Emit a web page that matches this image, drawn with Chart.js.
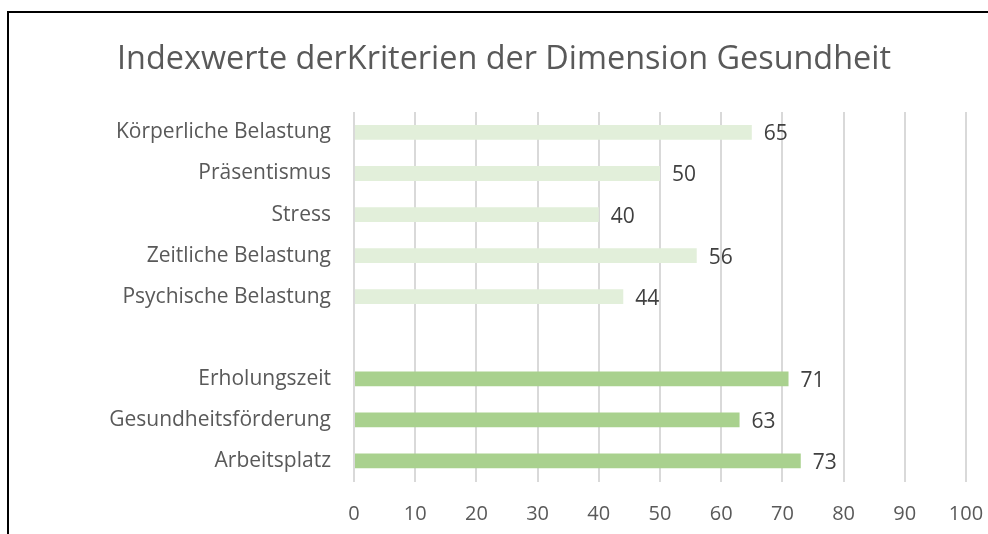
<!DOCTYPE html>
<html>
<head>
<meta charset="utf-8">
<script src="https://cdn.jsdelivr.net/npm/chart.js@4/dist/chart.umd.min.js"></script>
<style>
  html, body { margin: 0; padding: 0; background: #fff; overflow: hidden; width: 988px; height: 534px; }
  #frame { position: absolute; left: 7px; top: 11px; width: 1200px; height: 800px;
           border-top: 2px solid #000; border-left: 2px solid #000; }
  #chart { position: absolute; left: 0; top: 0; }
</style>
</head>
<body>
<div id="frame"></div>
<canvas id="chart" width="1008" height="534"></canvas>
<script>
// ── Data ──────────────────────────────────────
const TITLE      = 'Indexwerte derKriterien der Dimension Gesundheit';
const categories = ['Körperliche Belastung', 'Präsentismus', 'Stress', 'Zeitliche Belastung',
                    'Psychische Belastung', '', 'Erholungszeit', 'Gesundheitsförderung', 'Arbeitsplatz'];
const values     = [65, 50, 40, 56, 44, null, 71, 63, 73];
const xTicks     = [0, 10, 20, 30, 40, 50, 60, 70, 80, 90, 100];

// ── Styles ────────────────────────────────────
const LIGHT = '#E2EFDA';
const DARK  = '#A9D18E';
const barColors = values.map((v, i) => i < 5 ? LIGHT : DARK);
const FONT = "'Open Sans', sans-serif";

// value labels at bar end
const valueLabels = {
  id: 'valueLabels',
  afterDatasetsDraw(chart) {
    const { ctx } = chart;
    const meta = chart.getDatasetMeta(0);
    ctx.save();
    ctx.font = `21px ${FONT}`;
    ctx.fillStyle = '#404040';
    ctx.textAlign = 'left';
    ctx.textBaseline = 'middle';
    meta.data.forEach((bar, i) => {
      if (values[i] == null) return;
      ctx.fillText(String(values[i]), bar.x + 12, bar.y + 2);
    });
    ctx.restore();
  }
};

new Chart(document.getElementById('chart'), {
  type: 'bar',
  data: {
    labels: categories,
    datasets: [{
      data: values,
      backgroundColor: barColors,
      borderWidth: 0,
      barPercentage: 0.36,
      categoryPercentage: 1
    }]
  },
  options: {
    indexAxis: 'y',
    responsive: false,
    animation: false,
    devicePixelRatio: 1,
    layout: { padding: { left: 42, right: 42, top: 0, bottom: 0 } },
    plugins: {
      legend: { display: false },
      tooltip: { enabled: false },
      title: {
        display: true,
        text: TITLE,
        color: '#595959',
        font: { family: FONT, size: 32.4, weight: 'normal' },
        padding: { top: 40.5, bottom: 32.5 }
      }
    },
    scales: {
      x: {
        min: 0, max: 100,
        afterBuildTicks: s => { s.ticks = xTicks.map(v => ({ value: v })); },
        afterFit: s => { s.height = 52.5; },
        grid: { color: '#D9D9D9', lineWidth: 2, drawTicks: false },
        border: { display: false },
        ticks: { color: '#595959', padding: 21, font: { family: FONT, size: 20 } }
      },
      y: {
        afterFit: s => { s.width = 312; },
        grid: { display: false, drawTicks: false },
        border: { display: false },
        ticks: { color: '#595959', padding: 23, font: { family: FONT, size: 21 } }
      }
    }
  },
  plugins: [valueLabels]
});
</script>
</body>
</html>
